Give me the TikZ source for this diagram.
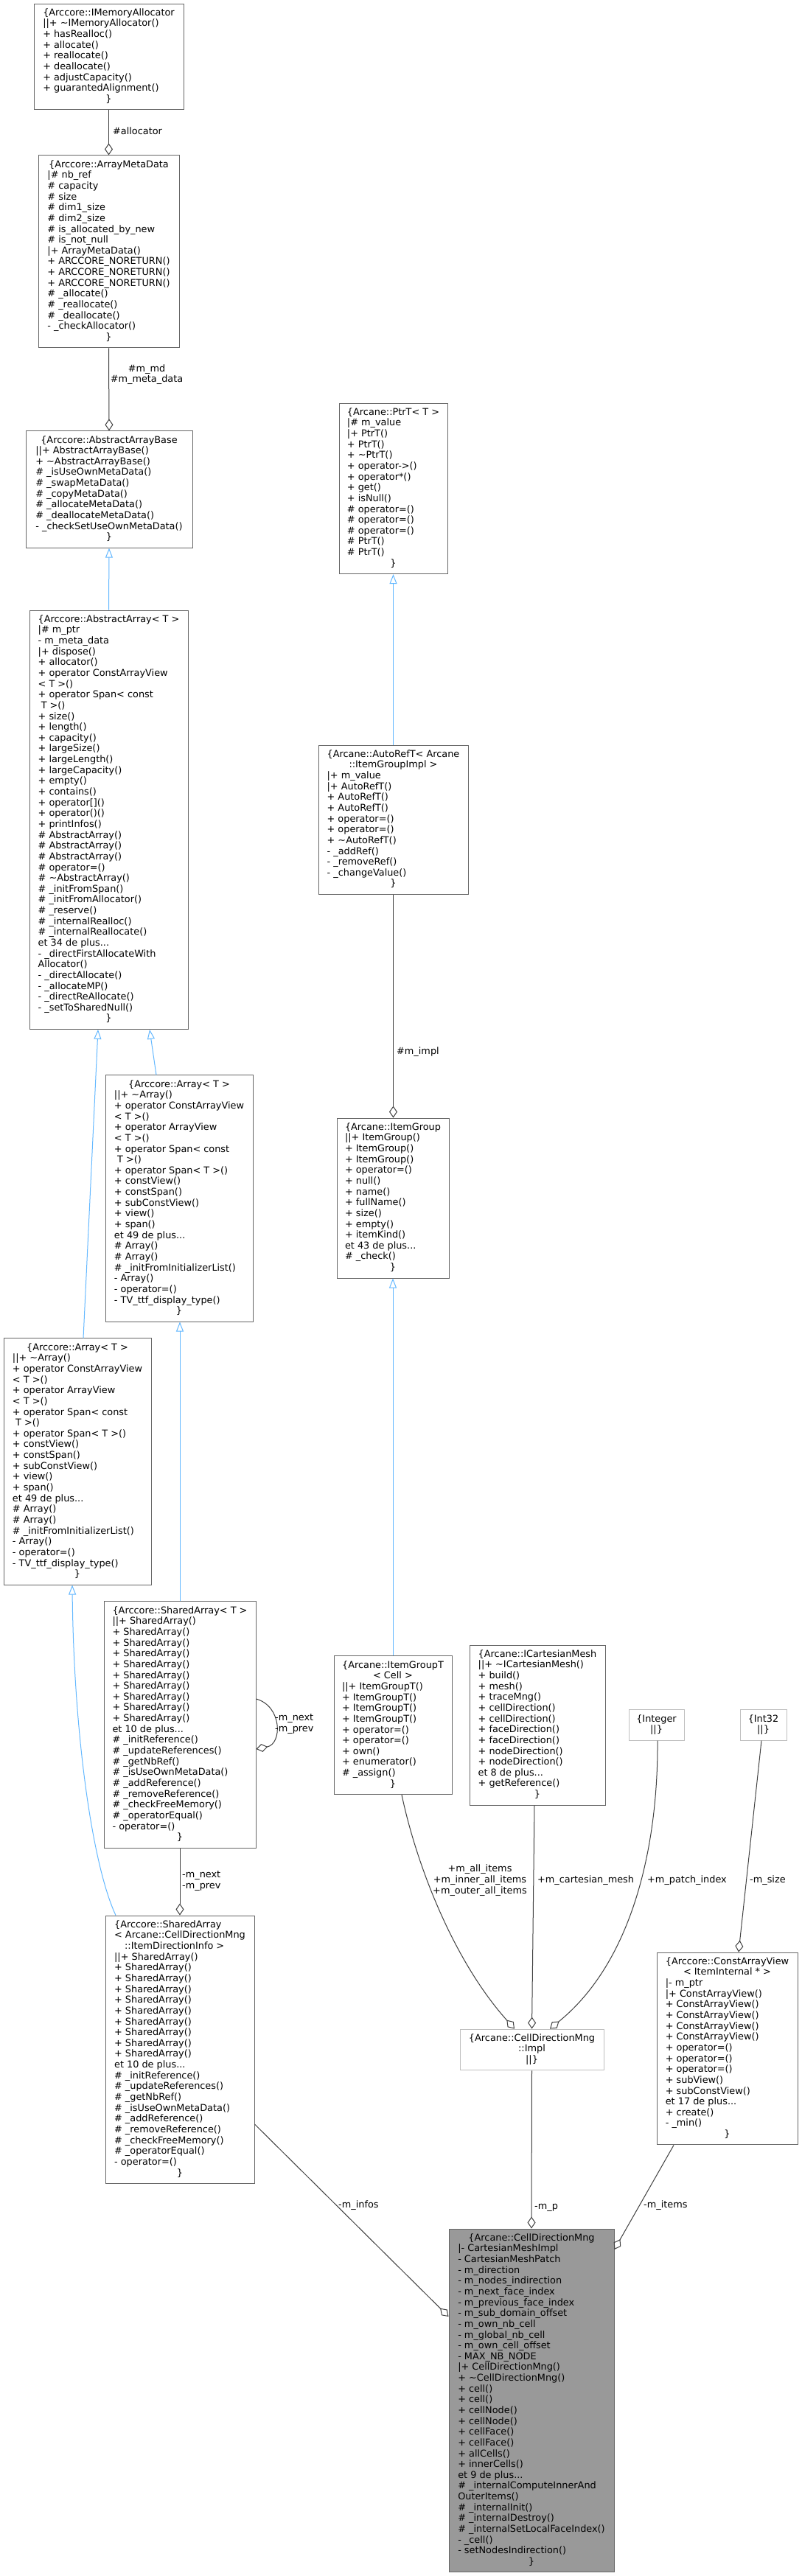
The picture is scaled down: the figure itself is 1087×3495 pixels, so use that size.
\documentclass[tikz,border=0pt]{standalone}
\usepackage{fontspec}
\setmainfont{DejaVu Sans}
\usetikzlibrary{arrows.meta}
\definecolor{boxborder}{HTML}{666666}
\definecolor{undocborder}{HTML}{BFBFBF}
\definecolor{mainfill}{HTML}{999999}
\definecolor{inhblue}{HTML}{63B8FF}
\definecolor{collgrey}{HTML}{404040}
\newcommand\ctr[1]{\multicolumn{1}{@{}c@{}}{#1}}
\newcommand\boxtext[1]{\begin{tabular}{@{}l@{}}#1\end{tabular}}
\tikzset{
  cls/.style={draw=boxborder, fill=white, line width=1pt, inner sep=0pt,
    font=\fontsize{12.85}{14.64}\selectfont, text=black},
  undoc/.style={cls, draw=undocborder},
  mainc/.style={cls, fill=mainfill},
  inh/.style={draw=inhblue, line width=1pt, -{Triangle[open, length=13pt, width=10pt]}},
  coll/.style={draw=collgrey, line width=1pt, -{Diamond[open, length=16pt, width=11pt]}},
  elabel/.style={font=\fontsize{12.85}{14.64}\selectfont, inner sep=0pt, text=black}
}
\begin{document}
\begin{tikzpicture}[x=1pt,y=-1pt]
\fill[white] (0,0) rectangle (1087,3495);
\useasboundingbox (0,0) rectangle (1087,3495);

% ---------------- left column ----------------
\node[cls, minimum width=203pt, minimum height=143.76pt] (ima) at (147.5,76.9) {\boxtext{%
\ctr{\{Arccore::IMemoryAllocator}\\
||+ \textasciitilde IMemoryAllocator()\\
+ hasRealloc()\\
+ allocate()\\
+ reallocate()\\
+ deallocate()\\
+ adjustCapacity()\\
+ guarantedAlignment()\\
\ctr{\}}}};

\node[cls, minimum width=191pt, minimum height=260.88pt] (amd) at (147.5,341.4) {\boxtext{%
\ctr{\{Arccore::ArrayMetaData}\\
|\# nb\_ref\\
\# capacity\\
\# size\\
\# dim1\_size\\
\# dim2\_size\\
\# is\_allocated\_by\_new\\
\# is\_not\_null\\
|+ ArrayMetaData()\\
+ ARCCORE\_NORETURN()\\
+ ARCCORE\_NORETURN()\\
+ ARCCORE\_NORETURN()\\
\# \_allocate()\\
\# \_reallocate()\\
\# \_deallocate()\\
- \_checkAllocator()\\
\ctr{\}}}};

\node[cls, minimum width=226pt, minimum height=158.4pt] (aab) at (148,664) {\boxtext{%
\ctr{\{Arccore::AbstractArrayBase}\\
||+ AbstractArrayBase()\\
+ \textasciitilde AbstractArrayBase()\\
\# \_isUseOwnMetaData()\\
\# \_swapMetaData()\\
\# \_copyMetaData()\\
\# \_allocateMetaData()\\
\# \_deallocateMetaData()\\
- \_checkSetUseOwnMetaData()\\
\ctr{\}}}};

\node[cls, minimum width=215pt, minimum height=568.32pt] (aa) at (147.5,1112.2) {\boxtext{%
\ctr{\{Arccore::AbstractArray< T >}\\
|\# m\_ptr\\
- m\_meta\_data\\
|+ dispose()\\
+ allocator()\\
+ operator ConstArrayView\\
< T >()\\
+ operator Span< const\\
\ T >()\\
+ size()\\
+ length()\\
+ capacity()\\
+ largeSize()\\
+ largeLength()\\
+ largeCapacity()\\
+ empty()\\
+ contains()\\
+ operator[]()\\
+ operator()()\\
+ printInfos()\\
\# AbstractArray()\\
\# AbstractArray()\\
\# AbstractArray()\\
\# operator=()\\
\# \textasciitilde AbstractArray()\\
\# \_initFromSpan()\\
\# \_initFromAllocator()\\
\# \_reserve()\\
\# \_internalRealloc()\\
\# \_internalReallocate()\\
et 34 de plus...\\
- \_directFirstAllocateWith\\
Allocator()\\
- \_directAllocate()\\
- \_allocateMP()\\
- \_directReAllocate()\\
- \_setToSharedNull()\\
\ctr{\}}}};

\node[cls, minimum width=200pt, minimum height=334.08pt] (arrm) at (243,1626) {\boxtext{%
\ctr{\{Arccore::Array< T >}\\
||+ \textasciitilde Array()\\
+ operator ConstArrayView\\
< T >()\\
+ operator ArrayView\\
< T >()\\
+ operator Span< const\\
\ T >()\\
+ operator Span< T >()\\
+ constView()\\
+ constSpan()\\
+ subConstView()\\
+ view()\\
+ span()\\
et 49 de plus...\\
\# Array()\\
\# Array()\\
\# \_initFromInitializerList()\\
- Array()\\
- operator=()\\
- TV\_ttf\_display\_type()\\
\ctr{\}}}};

\node[cls, minimum width=200pt, minimum height=334.08pt] (arrl) at (105,1983) {\boxtext{%
\ctr{\{Arccore::Array< T >}\\
||+ \textasciitilde Array()\\
+ operator ConstArrayView\\
< T >()\\
+ operator ArrayView\\
< T >()\\
+ operator Span< const\\
\ T >()\\
+ operator Span< T >()\\
+ constView()\\
+ constSpan()\\
+ subConstView()\\
+ view()\\
+ span()\\
et 49 de plus...\\
\# Array()\\
\# Array()\\
\# \_initFromInitializerList()\\
- Array()\\
- operator=()\\
- TV\_ttf\_display\_type()\\
\ctr{\}}}};

\node[cls, minimum width=206pt, minimum height=334.08pt] (sat) at (244,2340) {\boxtext{%
\ctr{\{Arccore::SharedArray< T >}\\
||+ SharedArray()\\
+ SharedArray()\\
+ SharedArray()\\
+ SharedArray()\\
+ SharedArray()\\
+ SharedArray()\\
+ SharedArray()\\
+ SharedArray()\\
+ SharedArray()\\
+ SharedArray()\\
et 10 de plus...\\
\# \_initReference()\\
\# \_updateReferences()\\
\# \_getNbRef()\\
\# \_isUseOwnMetaData()\\
\# \_addReference()\\
\# \_removeReference()\\
\# \_checkFreeMemory()\\
\# \_operatorEqual()\\
- operator=()\\
\ctr{\}}}};

\node[cls, minimum width=202pt, minimum height=363.36pt] (sacd) at (244,2780.7) {\boxtext{%
\{Arccore::SharedArray\\
< Arcane::CellDirectionMng\\
\hspace*{14pt}::ItemDirectionInfo >\\
||+ SharedArray()\\
+ SharedArray()\\
+ SharedArray()\\
+ SharedArray()\\
+ SharedArray()\\
+ SharedArray()\\
+ SharedArray()\\
+ SharedArray()\\
+ SharedArray()\\
+ SharedArray()\\
et 10 de plus...\\
\# \_initReference()\\
\# \_updateReferences()\\
\# \_getNbRef()\\
\# \_isUseOwnMetaData()\\
\# \_addReference()\\
\# \_removeReference()\\
\# \_checkFreeMemory()\\
\# \_operatorEqual()\\
- operator=()\\
\ctr{\}}}};

% ---------------- middle column ----------------
\node[cls, minimum width=147pt, minimum height=231.6pt] (ptr) at (533.5,662.8) {\boxtext{%
\ctr{\{Arcane::PtrT< T >}\\
|\# m\_value\\
|+ PtrT()\\
+ PtrT()\\
+ \textasciitilde PtrT()\\
+ operator->()\\
+ operator*()\\
+ get()\\
+ isNull()\\
\# operator=()\\
\# operator=()\\
\# operator=()\\
\# PtrT()\\
\# PtrT()\\
\ctr{\}}}};

\node[cls, minimum width=203pt, minimum height=202.32pt] (arf) at (533.5,1112.2) {\boxtext{%
\ctr{\{Arcane::AutoRefT< Arcane}\\
\ctr{::ItemGroupImpl >}\\
|+ m\_value\\
|+ AutoRefT()\\
+ AutoRefT()\\
+ AutoRefT()\\
+ operator=()\\
+ operator=()\\
+ \textasciitilde AutoRefT()\\
- \_addRef()\\
- \_removeRef()\\
- \_changeValue()\\
\ctr{\}}}};

\node[cls, minimum width=152pt, minimum height=216.96pt] (ig) at (533,1625.5) {\boxtext{%
\ctr{\{Arcane::ItemGroup}\\
||+ ItemGroup()\\
+ ItemGroup()\\
+ ItemGroup()\\
+ operator=()\\
+ null()\\
+ name()\\
+ fullName()\\
+ size()\\
+ empty()\\
+ itemKind()\\
et 43 de plus...\\
\# \_check()\\
\ctr{\}}}};

\node[cls, minimum width=160pt, minimum height=187.68pt] (igt) at (533,2340.8) {\boxtext{%
\ctr{\{Arcane::ItemGroupT}\\
\ctr{< Cell >}\\
||+ ItemGroupT()\\
+ ItemGroupT()\\
+ ItemGroupT()\\
+ ItemGroupT()\\
+ operator=()\\
+ operator=()\\
+ own()\\
+ enumerator()\\
\# \_assign()\\
\ctr{\}}}};

\node[cls, minimum width=184pt, minimum height=216.96pt] (icm) at (729,2340.5) {\boxtext{%
\ctr{\{Arcane::ICartesianMesh}\\
||+ \textasciitilde ICartesianMesh()\\
+ build()\\
+ mesh()\\
+ traceMng()\\
+ cellDirection()\\
+ cellDirection()\\
+ faceDirection()\\
+ faceDirection()\\
+ nodeDirection()\\
+ nodeDirection()\\
et 8 de plus...\\
+ getReference()\\
\ctr{\}}}};

\node[undoc, minimum width=75pt, minimum height=41.28pt] (intg) at (890.5,2340.5) {\boxtext{%
\ctr{\{Integer}\\
\ctr{||\}}}};

\node[undoc, minimum width=63pt, minimum height=41.28pt] (i32) at (1035.5,2340.5) {\boxtext{%
\ctr{\{Int32}\\
\ctr{||\}}}};

\node[undoc, minimum width=195pt, minimum height=55.92pt] (impl) at (721.5,2781) {\boxtext{%
\ctr{\{Arcane::CellDirectionMng}\\
\ctr{::Impl}\\
\ctr{||\}}}};

\node[cls, minimum width=191pt, minimum height=260.88pt] (cav) at (986.5,2779.5) {\boxtext{%
\ctr{\{Arccore::ConstArrayView}\\
\ctr{< ItemInternal * >}\\
|- m\_ptr\\
|+ ConstArrayView()\\
+ ConstArrayView()\\
+ ConstArrayView()\\
+ ConstArrayView()\\
+ ConstArrayView()\\
+ operator=()\\
+ operator=()\\
+ operator=()\\
+ subView()\\
+ subConstView()\\
et 17 de plus...\\
+ create()\\
- \_min()\\
\ctr{\}}}};

\node[mainc, minimum width=224pt, minimum height=465.84pt] (cdm) at (721,3256.9) {\boxtext{%
\ctr{\{Arcane::CellDirectionMng}\\
|- CartesianMeshImpl\\
- CartesianMeshPatch\\
- m\_direction\\
- m\_nodes\_indirection\\
- m\_next\_face\_index\\
- m\_previous\_face\_index\\
- m\_sub\_domain\_offset\\
- m\_own\_nb\_cell\\
- m\_global\_nb\_cell\\
- m\_own\_cell\_offset\\
- MAX\_NB\_NODE\\
|+ CellDirectionMng()\\
+ \textasciitilde CellDirectionMng()\\
+ cell()\\
+ cell()\\
+ cellNode()\\
+ cellNode()\\
+ cellFace()\\
+ cellFace()\\
+ allCells()\\
+ innerCells()\\
et 9 de plus...\\
\# \_internalComputeInnerAnd\\
OuterItems()\\
\# \_internalInit()\\
\# \_internalDestroy()\\
\# \_internalSetLocalFaceIndex()\\
- \_cell()\\
- setNodesIndirection()\\
\ctr{\}}}};

% ---------------- connectors ----------------
\draw[coll] (ima.south) -- (amd.north);
\node[elabel, anchor=west] (l1) at (153,178) {\#allocator};

\draw[coll] (amd.south) -- (aab.north);
\node[elabel, align=center] (l2) at (199,508) {\#m\_md\\\#m\_meta\_data};

\draw[inh] (aa.north) -- (aab.south);
\draw[inh] ([xshift=-31pt]arrm.north) -- ([xshift=55.5pt]aa.south);
\draw[inh] ([xshift=8pt]arrl.north) -- ([xshift=-14.5pt]aa.south);
\draw[inh] (sat.north) -- ([xshift=1pt]arrm.south);
\draw[inh] ([xshift=-87pt]sacd.north) .. controls (125,2530) and (100,2350) .. ([xshift=-7pt]arrl.south);

\draw[coll] ([yshift=35pt]sat.east) .. controls (383,2315) and (383,2366) .. ([yshift=-33pt]sat.east);
\node[elabel, align=left, anchor=west] (l3) at (373,2339) {-m\_next\\-m\_prev};

\draw[coll] (sat.south) -- (sacd.north);
\node[elabel, align=left, anchor=west] (l4) at (247,2552) {-m\_next\\-m\_prev};

\draw[coll] ([yshift=-101.3pt]sacd.east) -- ([yshift=113.9pt]cdm.west);
\node[elabel, anchor=west] (l5) at (459,2992) {-m\_infos};

\draw[inh] (arf.north) -- (ptr.south);
\draw[coll] (arf.south) -- ([xshift=0.5pt]ig.north);
\node[elabel, anchor=west] (l6) at (538,1427) {\#m\_impl};
\draw[inh] (igt.north) -- (ig.south);

\draw[coll] ([xshift=12pt]igt.south) .. controls (565,2530) and (615,2660) .. ([xshift=-23.5pt]impl.north);
\node[elabel, align=center] (l7) at (651,2551) {+m\_all\_items\\+m\_inner\_all\_items\\+m\_outer\_all\_items};

\draw[coll] ([xshift=-4pt]icm.south) -- (impl.north);
\node[elabel, anchor=west] (l8) at (729,2551) {+m\_cartesian\_mesh};

\draw[coll] ([xshift=1.5pt]intg.south) .. controls (893,2500) and (860,2660) .. ([xshift=24.5pt]impl.north);
\node[elabel] (l9) at (932,2551) {+m\_patch\_index};

\draw[coll] (impl.south) -- (cdm.north);
\node[elabel, anchor=west] (l10) at (725,2995) {-m\_p};

\draw[coll] ([xshift=-2.5pt]i32.south) -- ([xshift=15.5pt]cav.north);
\node[elabel, anchor=west] (l11) at (1017,2551) {-m\_size};

\draw[coll] ([xshift=-72.5pt]cav.south) -- ([yshift=204.9pt]cdm.east);
\node[elabel, anchor=west] (l12) at (873,2992) {-m\_items};
\end{tikzpicture}
\end{document}
